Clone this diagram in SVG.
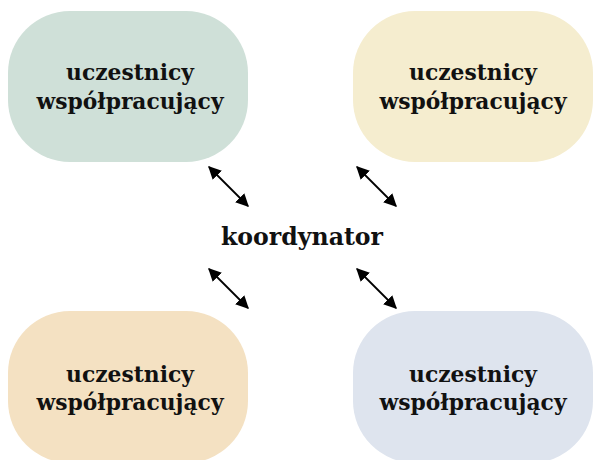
<svg xmlns="http://www.w3.org/2000/svg" width="593" height="460" viewBox="0 0 593 460">
<defs>
<style>
.lbl{font-family:"DejaVu Serif","Liberation Serif",serif;font-weight:bold;font-size:21.8px;fill:#111;text-anchor:middle}
.con{stroke:#000;stroke-width:1.8;fill:none;marker-start:url(#ah);marker-end:url(#ah)}
</style>
<marker id="ah" viewBox="0 0 10 10" refX="9" refY="5" markerWidth="13" markerHeight="13" markerUnits="userSpaceOnUse" orient="auto-start-reverse">
<path d="M0,0 L10,5 L0,10 z" fill="#000"/>
</marker>
</defs>
<g id="node-tl">
<rect x="8" y="11" width="240" height="151" rx="62" ry="62" fill="#cfe0d8"/>
<text class="lbl" x="130" y="80">uczestnicy</text>
<text class="lbl" x="130" y="109">współpracujący</text>
</g>
<g id="node-tr">
<rect x="353" y="11" width="240" height="151" rx="62" ry="62" fill="#f5edcf"/>
<text class="lbl" x="473" y="80">uczestnicy</text>
<text class="lbl" x="473" y="109">współpracujący</text>
</g>
<g id="node-bl">
<rect x="8" y="311" width="240" height="152" rx="62" ry="62" fill="#f4e1c2"/>
<text class="lbl" x="130" y="382">uczestnicy</text>
<text class="lbl" x="130" y="410">współpracujący</text>
</g>
<g id="node-br">
<rect x="353" y="311" width="240" height="152" rx="62" ry="62" fill="#dee4ee"/>
<text class="lbl" x="473" y="382">uczestnicy</text>
<text class="lbl" x="473" y="410">współpracujący</text>
</g>
<g id="node-center">
<text class="lbl" x="302" y="245" style="font-size:23.6px">koordynator</text>
</g>
<g id="connectors">
<line class="con" x1="209" y1="167" x2="248" y2="206"/>
<line class="con" x1="357" y1="167" x2="396" y2="206"/>
<line class="con" x1="209" y1="269" x2="248" y2="308"/>
<line class="con" x1="357" y1="269" x2="396" y2="308"/>
</g>
</svg>
